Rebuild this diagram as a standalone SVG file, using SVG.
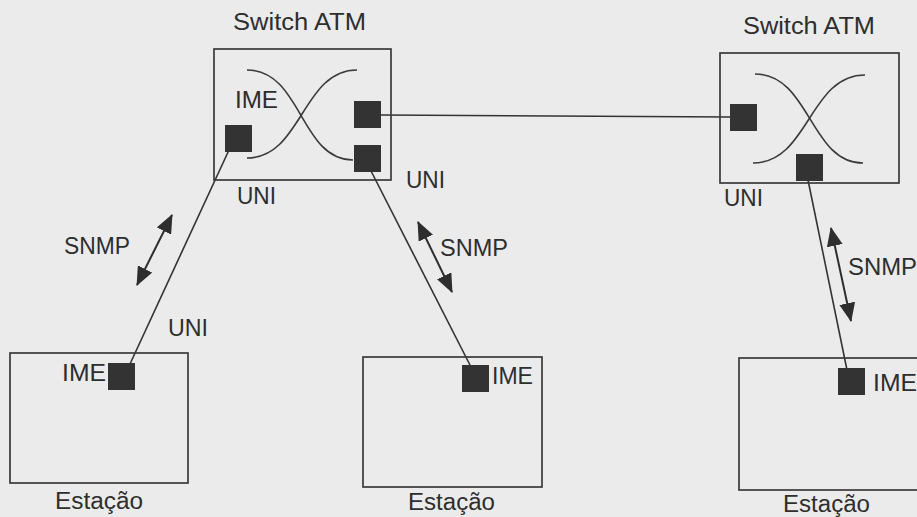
<svg xmlns="http://www.w3.org/2000/svg" width="917" height="517" viewBox="0 0 917 517">
<defs>
<marker id="ah" markerUnits="userSpaceOnUse" markerWidth="19" markerHeight="16" refX="18" refY="8" orient="auto-start-reverse">
<path d="M0,0 L19,8 L0,16 z" fill="#2e2e2e"/>
</marker>
<style>
.box{fill:none;stroke:#3a3a3a;stroke-width:1.7}
.port{fill:#333}
.curve{fill:none;stroke:#3a3a3a;stroke-width:1.6}
.link{stroke:#333;stroke-width:1.6;fill:none}
.snmp{stroke:#2e2e2e;stroke-width:2;fill:none;marker-start:url(#ah);marker-end:url(#ah)}
text{font-family:"Liberation Sans",Arial,sans-serif;font-size:23.5px;fill:#2e2e2e}
</style>
</defs>
<rect width="917" height="517" fill="#ebebeb"/>

<g id="connectors">
<line class="link" x1="381" y1="115" x2="730" y2="117"/>
<line class="link" x1="229" y1="150" x2="130" y2="364"/>
<line class="link" x1="370" y1="169" x2="471" y2="367"/>
<line class="link" x1="808" y1="180" x2="847" y2="370"/>
<line class="snmp" x1="172" y1="215" x2="137" y2="285"/>
<line class="snmp" x1="418" y1="222" x2="452" y2="292"/>
<line class="snmp" x1="831" y1="228" x2="851" y2="321"/>
</g>

<g id="switch1">
<text x="233" y="30" textLength="133" lengthAdjust="spacingAndGlyphs">Switch ATM</text>
<rect class="box" x="214" y="49" width="177" height="131"/>
<path class="curve" d="M247,70 C302,70 300,160 353,160"/>
<path class="curve" d="M247,158 C302,158 302,70 357,70"/>
<text x="235" y="108" textLength="43" lengthAdjust="spacingAndGlyphs">IME</text>
<rect class="port" x="225" y="125" width="27" height="27"/>
<rect class="port" x="354" y="101" width="27" height="27"/>
<rect class="port" x="354" y="145" width="27" height="27"/>
<text x="237" y="204" textLength="39" lengthAdjust="spacingAndGlyphs">UNI</text>
<text x="406" y="188" textLength="39" lengthAdjust="spacingAndGlyphs">UNI</text>
</g>

<g id="switch2">
<text x="743" y="34" textLength="132" lengthAdjust="spacingAndGlyphs">Switch ATM</text>
<rect class="box" x="720" y="53" width="179" height="130"/>
<path class="curve" d="M755,74 C810,74 810,163 863,163"/>
<path class="curve" d="M753,163 C809,163 809,75 865,75"/>
<rect class="port" x="730" y="104" width="27" height="27"/>
<rect class="port" x="796" y="154" width="27" height="27"/>
<text x="724" y="206" textLength="39" lengthAdjust="spacingAndGlyphs">UNI</text>
</g>

<g id="station1">
<rect class="box" x="10" y="353" width="178" height="130"/>
<rect class="port" x="108" y="363" width="27" height="27"/>
<text x="62" y="381" textLength="44" lengthAdjust="spacingAndGlyphs">IME</text>
<text x="55" y="509" textLength="88" lengthAdjust="spacingAndGlyphs">Estação</text>
</g>

<g id="station2">
<rect class="box" x="363" y="357" width="179" height="130"/>
<rect class="port" x="462" y="365" width="27" height="27"/>
<text x="492" y="384" textLength="41" lengthAdjust="spacingAndGlyphs">IME</text>
<text x="408" y="510" textLength="87" lengthAdjust="spacingAndGlyphs">Estação</text>
</g>

<g id="station3">
<rect class="box" x="739" y="358" width="200" height="132"/>
<rect class="port" x="838" y="368" width="27" height="27"/>
<text x="873" y="391" textLength="44" lengthAdjust="spacingAndGlyphs">IME</text>
<text x="783" y="512" textLength="87" lengthAdjust="spacingAndGlyphs">Estação</text>
</g>

<g id="labels">
<text x="64" y="254" textLength="66" lengthAdjust="spacingAndGlyphs">SNMP</text>
<text x="440" y="256" textLength="68" lengthAdjust="spacingAndGlyphs">SNMP</text>
<text x="848" y="275" textLength="69" lengthAdjust="spacingAndGlyphs">SNMP</text>
<text x="168" y="336" textLength="40" lengthAdjust="spacingAndGlyphs">UNI</text>
</g>
</svg>
